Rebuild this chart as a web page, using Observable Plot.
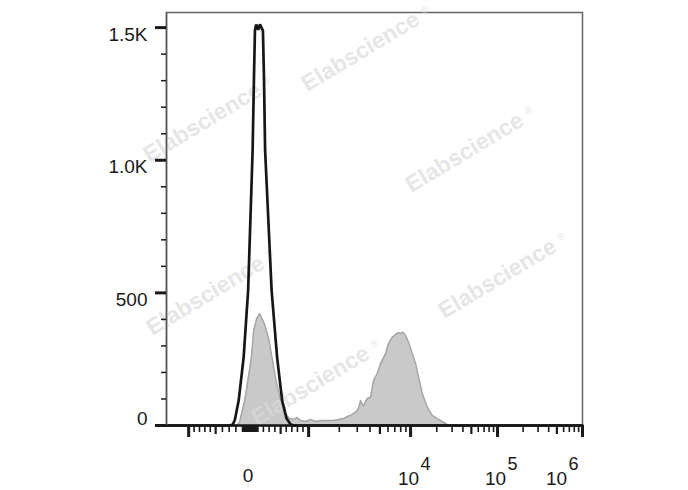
<!DOCTYPE html>
<html><head><meta charset="utf-8">
<script src="https://cdn.jsdelivr.net/npm/d3@7"></script>
<script src="https://cdn.jsdelivr.net/npm/@observablehq/plot@0.6"></script>
<style>html,body{margin:0;padding:0;background:#fff;} svg{display:block}</style>
</head><body><div id="chart"></div>
<script>
// ---- data (fluorescence intensity vs. event count) ----
const controlFL    = [-1650, -300, -245, -215, -159, -87, -27, 33, 51, 64, 80, 110, 140, 192, 210, 230, 343, 439, 527, 607, 679, 732, 1e6];
const controlCount = [0, 0, 4, 22, 94, 256, 509, 1037, 1312, 1489, 1512, 1492, 1512, 1489, 1312, 1037, 509, 256, 94, 26, 4, 0, 0];

const stainedFL    = [-1650, -189, -145, -130, -73, -20, 20, 47, 87, 110, 135, 160, 185, 222, 260, 291, 343, 413, 483, 536, 607, 660, 732, 798, 857, 946, 1046, 1171, 1311, 1468, 1758, 1967, 2203, 2410, 2580, 2890, 3092, 3234, 3384, 3460, 3763, 4054, 4337, 4716, 5082, 5690, 6085, 6618, 7129, 7560, 7981, 8450, 8934, 9559, 10460, 11415, 12360, 13630, 15560, 17750, 20270, 23130, 25240, 27340, 1e6];
const stainedCount = [0, 0, 12, 30, 94, 188, 264, 358, 403, 412, 422, 410, 398, 381, 352, 328, 264, 177, 109, 68, 38, 26, 23, 30, 19, 15, 23, 15, 19, 19, 19, 23, 26, 34, 38, 50, 64, 94, 79, 75, 102, 107, 170, 196, 234, 271, 309, 333, 343, 350, 347, 352, 339, 314, 271, 234, 182, 121, 69, 38, 26, 15, 8, 0, 0];

const yTickValues = [0, 500, 1000, 1500];
const yTickLabels = ["0", "500", "1.0K", "1.5K"];
const xLabelValues = [0, 1e4, 1e5, 1e6];
const xLabelBases = ["0", "10", "10", "10"];
const xLabelExponents = ["", "4", "5", "6"];
const watermark = "Elabscience";

// ---- biexponential display transform ----
const linPart = d3.scaleLinear().domain([-1000, -500, -100, 0, 100, 500, 1000]).range([-61.5, -34.5, -7.5, 0, 7.5, 30.5, 58.5]);
const logPart = d3.scaleLinear().domain([3, 4, 5, 6]).range([58.5, 160.5, 247.5, 332.5]);
function biex(v) {
  if (v >= 1000) return logPart(Math.log10(v));
  if (v <= -1000) return -61.5 - (Math.log10(-v) - 3) * 102;
  return linPart(v);
}
const xMin = -1650, xMax = 1e6;

// tick values
const xMajor = [-1000, 1000, 1e4, 1e5, 1e6];
const xMedium = [-500, 500, 5e3, 5e4, 5e5];
const xMinor = [];
for (const m of [1,2,3,4,6,7,8,9]) { xMinor.push(m*10, -m*10, m*100, -m*100); }
xMinor.push(0, 50, -50, 100, -100);
for (const e of [3,4,5]) for (const m of [2,3,4,6,7,8,9]) xMinor.push(m * 10 ** e);
const yMinor = d3.range(0, 1600, 100).filter(d => d % 500 !== 0);

const control = controlFL.map((v, i) => ({v, c: controlCount[i]}));
const stained = stainedFL.map((v, i) => ({v, c: stainedCount[i]}));

const font = "Liberation Sans, Arial, Helvetica, sans-serif";
const ML = 166, MT = 12;
const wmCenters = [[360,51],[464,152],[202,122],[497,278],[205,295],[310,385]];
const wmMarks = [];
for (const [cx, cy] of wmCenters) {
  wmMarks.push(Plot.text([watermark], {text: d => d, frameAnchor: "top-left", dx: cx - ML, dy: cy - MT, rotate: -31,
    fontSize: 23, fontWeight: "bold", fill: "#dadada", fillOpacity: 0.68, fontFamily: font, textAnchor: "middle", lineAnchor: "middle"}));
  wmMarks.push(Plot.text(["®"], {text: d => d, frameAnchor: "top-left", dx: cx - ML + 64, dy: cy - MT - 42, rotate: -31,
    fontSize: 10, fill: "#dadada", fillOpacity: 0.68, fontFamily: font, textAnchor: "middle", lineAnchor: "middle"}));
}

const lbl = {fill: "#1a1a1a", fontFamily: font, lineAnchor: "middle"};

const chart = Plot.plot({
  width: 688, height: 490,
  marginLeft: ML, marginRight: 106, marginTop: MT, marginBottom: 65,
  x: {transform: biex, domain: [biex(xMin), biex(xMax)]},
  y: {domain: [0, 1557]},
  marks: [
    Plot.frame({stroke: "#666", strokeWidth: 1.5}),
    Plot.areaY(stained, {x: "v", y: "c", fill: "#c9c9c9", curve: "linear"}),
    Plot.lineY(stained, {x: "v", y: "c", stroke: "#a6a6a6", strokeWidth: 1.5, curve: "linear"}),
    ...wmMarks,
    Plot.lineY(control, {x: "v", y: "c", stroke: "#161616", strokeWidth: 2.7, curve: "linear", strokeLinejoin: "miter"}),
    Plot.ruleY([0], {stroke: "#161616", strokeWidth: 2.5}),
    Plot.ruleX([xMin], {stroke: "#555", strokeWidth: 1.5}),
    Plot.axisX(xMajor, {tickSize: 12, strokeWidth: 3, stroke: "#1a1a1a", tickFormat: () => "", label: null}),
    Plot.axisX(xMedium, {tickSize: 9, strokeWidth: 2.2, stroke: "#1a1a1a", tickFormat: () => "", label: null}),
    Plot.axisX(xMinor, {tickSize: 7, strokeWidth: 1.6, stroke: "#1a1a1a", tickFormat: () => "", label: null}),
    Plot.axisY(yTickValues, {tickSize: 11, strokeWidth: 3, stroke: "#1a1a1a", tickFormat: () => "", label: null}),
    Plot.axisY(yMinor, {tickSize: 5, strokeWidth: 1.5, stroke: "#1a1a1a", tickFormat: () => "", label: null}),
    Plot.text(yTickValues, {filter: d => d === 0, y: d => d, text: d => yTickLabels[yTickValues.indexOf(d)], frameAnchor: "left", dx: -19, dy: -7, textAnchor: "end", fontSize: 19, ...lbl}),
    Plot.text(yTickValues, {filter: d => d !== 0, y: d => d, text: d => yTickLabels[yTickValues.indexOf(d)], frameAnchor: "left", dx: -19, dy: 7, textAnchor: "end", fontSize: 19, ...lbl}),
    Plot.text(xLabelValues, {filter: d => d === 0, x: d => d, text: d => xLabelBases[xLabelValues.indexOf(d)], frameAnchor: "bottom", dy: 50, dx: -2, fontSize: 19, ...lbl}),
    Plot.text(xLabelValues, {filter: d => d > 0 && d < 1e6, x: d => d, text: d => xLabelBases[xLabelValues.indexOf(d)], frameAnchor: "bottom", dy: 53, dx: -2, fontSize: 19, ...lbl}),
    Plot.text(xLabelValues, {filter: d => d > 0 && d < 1e6, x: d => d, text: d => xLabelExponents[xLabelValues.indexOf(d)], frameAnchor: "bottom", dy: 39, dx: 15, fontSize: 18, ...lbl}),
    Plot.text(xLabelValues, {filter: d => d >= 1e6, x: d => d, text: d => xLabelBases[xLabelValues.indexOf(d)], frameAnchor: "bottom", dy: 53, dx: -26, fontSize: 19, ...lbl}),
    Plot.text(xLabelValues, {filter: d => d >= 1e6, x: d => d, text: d => xLabelExponents[xLabelValues.indexOf(d)], frameAnchor: "bottom", dy: 39, dx: -9, fontSize: 18, ...lbl})
  ]
});
document.getElementById("chart").appendChild(chart);
</script>
</body></html>
